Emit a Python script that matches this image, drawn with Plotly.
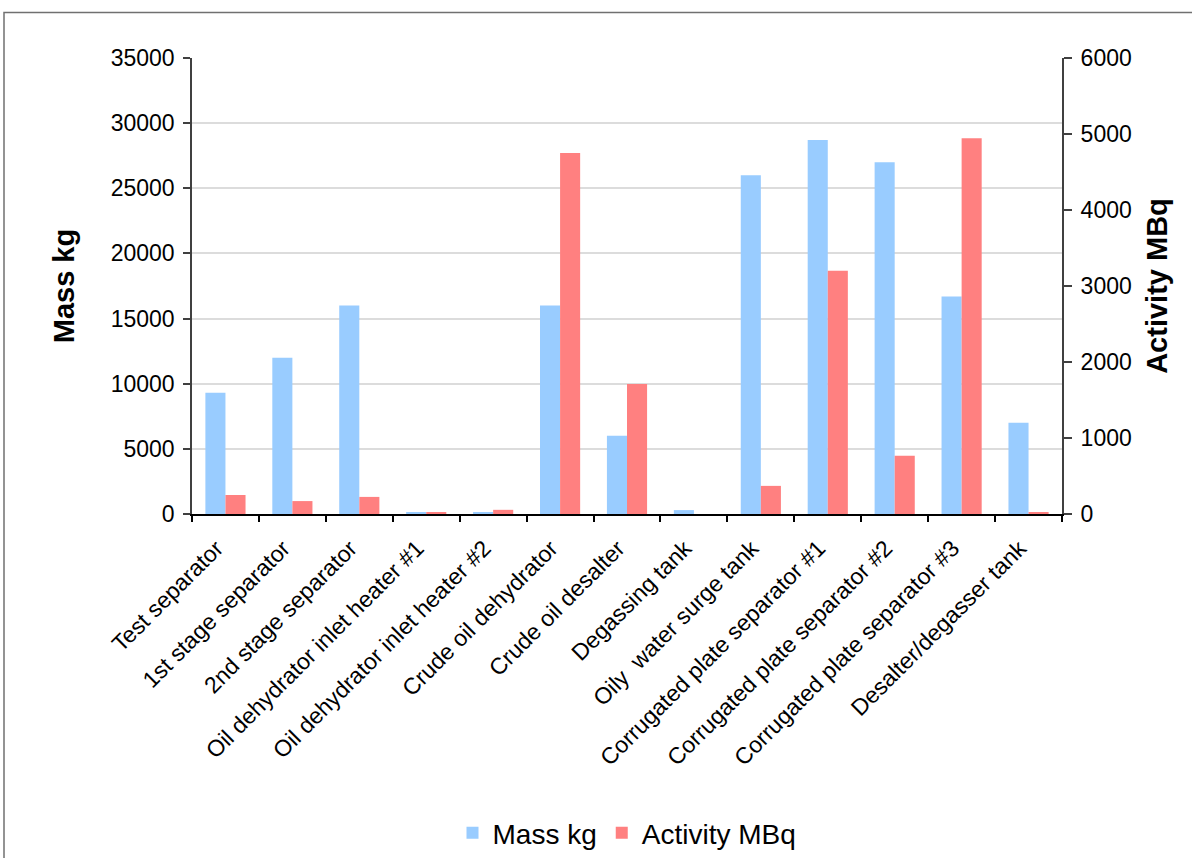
import plotly.graph_objects as go

# Equipment items and measured values
categories = [
    "Test separator",
    "1st stage separator",
    "2nd stage separator",
    "Oil dehydrator inlet heater #1",
    "Oil dehydrator inlet heater #2",
    "Crude oil dehydrator",
    "Crude oil desalter",
    "Degassing tank",
    "Oily  water surge tank",
    "Corrugated plate separator #1",
    "Corrugated plate separator #2",
    "Corrugated plate separator #3",
    "Desalter/degasser tank",
]
mass_kg = [9300, 12000, 16000, 150, 150, 16000, 6000, 300, 26000, 28700, 27000, 16700, 7000]
activity_mbq = [250, 170, 225, 25, 55, 4750, 1710, 0, 370, 3200, 765, 4945, 25]

mass_ticks = [0, 5000, 10000, 15000, 20000, 25000, 30000, 35000]
mass_tick_text = ["0", "5000", "10000", "15000", "20000", "25000", "30000", "35000"]
activity_ticks = [0, 1000, 2000, 3000, 4000, 5000, 6000]
activity_tick_text = ["0", "1000", "2000", "3000", "4000", "5000", "6000"]

FONT = "Liberation Sans, Arial, sans-serif"
W, H = 1192, 858
L, R, T, B = 192, 1062, 58, 514

fig = go.Figure()
fig.add_trace(go.Bar(
    x=categories, y=mass_kg, name="Mass kg",
    marker=dict(color="#99CCFF", line=dict(width=0)),
    width=0.3, offset=-0.3, yaxis="y",
))
fig.add_trace(go.Bar(
    x=categories, y=activity_mbq, name="Activity MBq",
    marker=dict(color="#FF8080", line=dict(width=0)),
    width=0.3, offset=0.0, yaxis="y2",
))

pw, ph = R - L, B - T


def px_x(p):
    return (p - L) / pw


def px_y(p):
    return (B - p) / ph


# rotated category labels sit a little left of the tick centre
cat_labels = [c + "\u00a0\u00a0" for c in categories]

fig.update_layout(
    width=W, height=H,
    margin=dict(l=L, r=W - R, t=T, b=H - B, pad=0, autoexpand=False),
    paper_bgcolor="white", plot_bgcolor="white",
    font=dict(family=FONT, color="black", size=22),
    showlegend=True,
    legend=dict(
        orientation="h", x=0.5, xanchor="center",
        y=px_y(833), yanchor="middle",
        font=dict(size=28, family=FONT),
        itemwidth=30, traceorder="normal",
    ),
    bargap=0.4,
    xaxis=dict(
        type="category", range=[-0.5, len(categories) - 0.5],
        tickmode="array", tickvals=categories, ticktext=cat_labels,
        tickangle=-45, tickfont=dict(size=23, family=FONT),
        showline=True, linecolor="black", linewidth=1.5,
        ticks="outside", ticklen=6, tickcolor="black", tickwidth=1.5,
        tickson="boundaries", showgrid=False, automargin=False,
        ticklabelstandoff=1,
    ),
    yaxis=dict(
        range=[0, 35000], tickvals=mass_ticks, ticktext=mass_tick_text,
        tickfont=dict(size=23, family=FONT),
        showline=True, linecolor="#404040", linewidth=1.5,
        ticks="outside", ticklen=7, tickcolor="#404040", tickwidth=1.5,
        showgrid=True, gridcolor="#dcdcdc", gridwidth=2,
        zeroline=False, ticklabelstandoff=4, automargin=False,
        title=dict(text="<b>Mass kg</b>", font=dict(size=29, family=FONT), standoff=28),
    ),
    yaxis2=dict(
        range=[0, 6000], tickvals=activity_ticks, ticktext=activity_tick_text,
        overlaying="y", side="right",
        tickfont=dict(size=23, family=FONT),
        showline=True, linecolor="#404040", linewidth=2,
        ticks="outside", ticklen=8, tickcolor="#404040", tickwidth=1.5,
        showgrid=False, zeroline=False, ticklabelstandoff=4, automargin=False,
        title=dict(text="<b>Activity MBq</b>", font=dict(size=29, family=FONT), standoff=16),
    ),
    shapes=[
        dict(type="rect", xref="paper", yref="paper",
             x0=px_x(4), x1=px_x(1200), y0=px_y(870), y1=px_y(12.5),
             line=dict(color="#707070", width=1.5), fillcolor="rgba(0,0,0,0)",
             layer="below"),
    ],
)

fig.write_html("out.html")
